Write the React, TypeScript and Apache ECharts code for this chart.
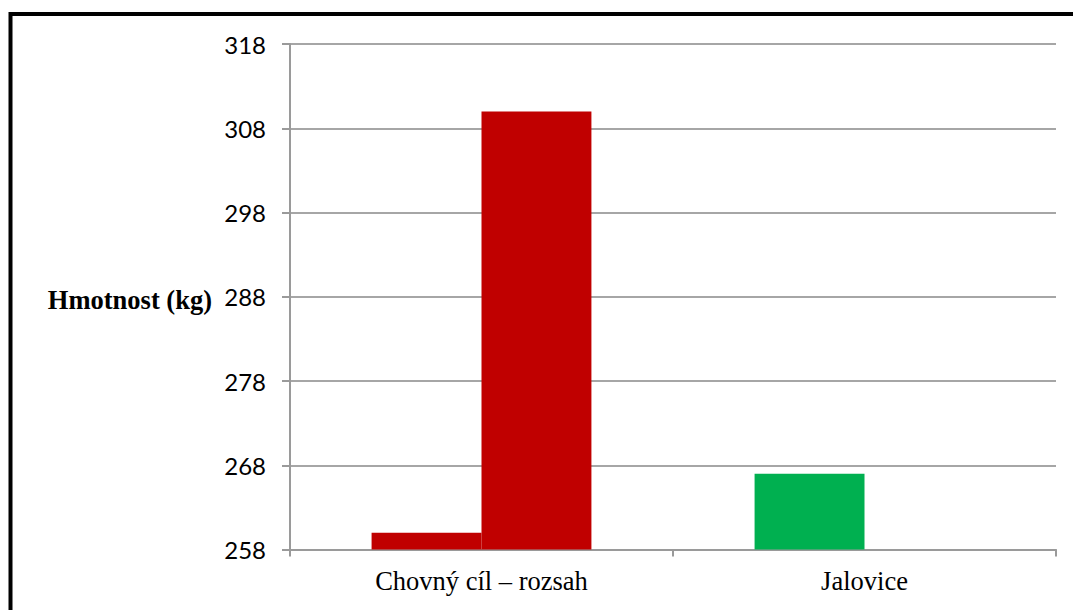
import React, { useEffect, useRef } from "react";
import * as echarts from "echarts";

// Categories and weights (kg)
const categories = ["Chovný cíl – rozsah", "Jalovice"];
const lowerValues = [260, 267];
const upperValues: (number | null)[] = [310, null];
const lowerColors = ["#c00000", "#00b050"];
const upperColor = "#c00000";
const yTicks = { min: 258, max: 318, interval: 10 };
const yTitle = "Hmotnost (kg)";

export default function App() {
  const ref = useRef<HTMLDivElement>(null);

  useEffect(() => {
    document.body.style.margin = "0";
    if (!ref.current) return;
    const chart = echarts.init(ref.current, undefined, { renderer: "svg" });
    const gray = "#9a9a9a";
    chart.setOption({
      animation: false,
      backgroundColor: "#ffffff",
      grid: { left: 290, right: 17, top: 44, bottom: 60.5 },
      graphic: [
        {
          type: "rect",
          shape: { x: 10.5, y: 14, width: 1100, height: 650 },
          style: { fill: "none", stroke: "#000000", lineWidth: 4 },
          silent: true,
          z: 100,
        },
        {
          type: "text",
          x: 212,
          y: 300,
          style: {
            text: yTitle,
            fontFamily: "'Liberation Serif', 'Times New Roman', serif",
            fontWeight: "bold",
            fontSize: 26.5,
            fill: "#000000",
            align: "right",
            verticalAlign: "middle",
          },
        },
      ],
      xAxis: {
        type: "category",
        data: categories,
        axisLine: { show: true, lineStyle: { color: gray, width: 2 } },
        axisTick: { show: true, length: 7, interval: 0, lineStyle: { color: gray, width: 2 } },
        axisLabel: {
          interval: 0,
          margin: 18,
          fontFamily: "'Liberation Serif', 'Times New Roman', serif",
          fontSize: 26.5,
          color: "#000000",
        },
        splitLine: { show: false },
      },
      yAxis: {
        type: "value",
        min: yTicks.min,
        max: yTicks.max,
        interval: yTicks.interval,
        axisLine: { show: true, lineStyle: { color: gray, width: 2 } },
        axisTick: { show: true, length: 8, lineStyle: { color: gray, width: 2 } },
        axisLabel: {
          margin: 24,
          fontFamily: "Lato, 'Liberation Sans', sans-serif",
          fontSize: 24,
          color: "#000000",
        },
        splitLine: { show: true, lineStyle: { color: "#a6a6a6", width: 2 } },
      },
      series: [
        {
          type: "bar",
          data: lowerValues.map((v, i) => ({ value: v, itemStyle: { color: lowerColors[i] } })),
          barGap: "0%",
          barCategoryGap: "42.6%",
        },
        {
          type: "bar",
          data: upperValues.map((v) => (v === null ? "-" : v)),
          itemStyle: { color: upperColor },
          barGap: "0%",
          barCategoryGap: "42.6%",
        },
      ],
    });
    return () => chart.dispose();
  }, []);

  return <div ref={ref} style={{ width: 1073, height: 610 }} />;
}
